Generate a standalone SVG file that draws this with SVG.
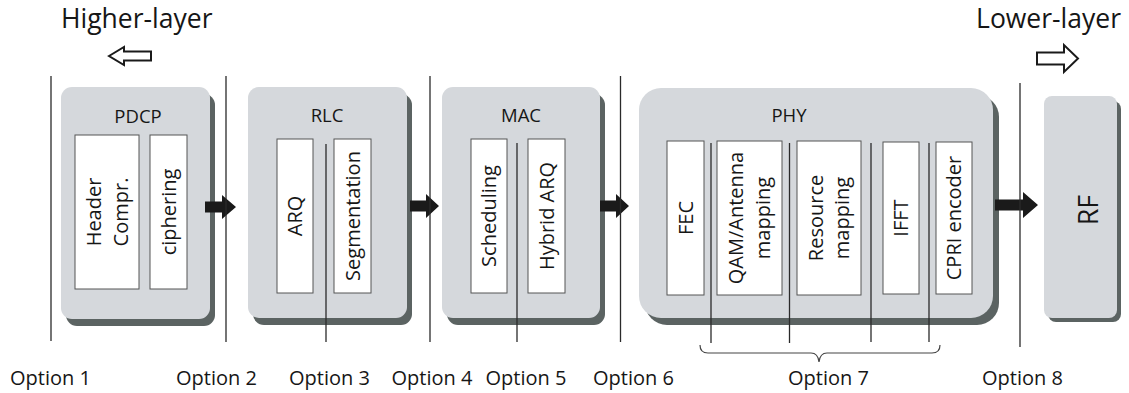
<svg xmlns="http://www.w3.org/2000/svg" width="1129" height="393" viewBox="0 0 1129 393">
<style>
text{font-family:"Open Sans","Noto Sans","Liberation Sans",sans-serif;fill:#161616}
.title{font-size:18.5px;text-anchor:middle}
.in{font-size:20px;text-anchor:middle}
.opt{font-size:20px;text-anchor:middle}
.big{font-size:26.5px}
.box{fill:#d5d8dc}
.sh{fill:#5b6362}
.inner{fill:#fff;stroke:#555;stroke-width:1}
.ln{stroke:#2a2a2a;stroke-width:1.3;fill:none}
.arr{fill:#1a1a1a}
.hol{fill:#fff;stroke:#1a1a1a;stroke-width:2;stroke-linejoin:miter}
</style>
<rect width="1129" height="393" fill="#fff"/>
<text class="big" x="61" y="28">Higher-layer</text>
<polygon class="hol" points="109,56 124,47 124,51.5 151,51.5 151,60.5 124,60.5 124,65"/>
<text class="big" x="1121" y="28" text-anchor="end">Lower-layer</text>
<polygon class="hol" points="1037,52.5 1064,52.5 1064,45 1078,58.5 1064,72 1064,64.5 1037,64.5"/>

<g id="pdcp">
<rect class="sh" x="66" y="94" width="149" height="232" rx="11"/>
<rect class="box" x="61" y="87" width="149" height="232" rx="11"/>
<text class="title" x="138" y="123">PDCP</text>
<rect class="inner" x="75" y="135" width="64" height="154"/>
<text class="in" transform="translate(94,212) rotate(-90)" y="7">Header</text>
<text class="in" transform="translate(121,212) rotate(-90)" y="7">Compr.</text>
<rect class="inner" x="150" y="135" width="37" height="154"/>
<text class="in" transform="translate(168.5,212) rotate(-90)" y="7">ciphering</text>
</g>

<g id="rlc">
<rect class="sh" x="253" y="94" width="159" height="231" rx="11"/>
<rect class="box" x="248" y="87" width="159" height="231" rx="11"/>
<text class="title" x="327" y="122">RLC</text>
<rect class="inner" x="277" y="139" width="36" height="154"/>
<text class="in" transform="translate(295,216) rotate(-90)" y="7">ARQ</text>
<rect class="inner" x="334" y="139" width="37" height="154"/>
<text class="in" transform="translate(352.5,216) rotate(-90)" y="7">Segmentation</text>
</g>

<g id="mac">
<rect class="sh" x="447" y="94" width="158" height="231" rx="11"/>
<rect class="box" x="442" y="87" width="158" height="231" rx="11"/>
<text class="title" x="521" y="122">MAC</text>
<rect class="inner" x="471" y="139" width="36" height="154"/>
<text class="in" transform="translate(489,216) rotate(-90)" y="7">Scheduling</text>
<rect class="inner" x="528" y="139" width="37" height="154"/>
<text class="in" transform="translate(546.5,216) rotate(-90)" y="7">Hybrid ARQ</text>
</g>

<g id="phy">
<rect class="sh" x="645" y="95" width="354" height="230" rx="22"/>
<rect class="box" x="639" y="88" width="354" height="230" rx="22"/>
<text class="title" x="789" y="122">PHY</text>
<rect class="inner" x="667" y="141" width="37" height="154"/>
<text class="in" transform="translate(685.5,218) rotate(-90)" y="7">FEC</text>
<rect class="inner" x="717" y="141" width="65" height="154"/>
<text class="in" transform="translate(736,218) rotate(-90)" y="7">QAM/Antenna</text>
<text class="in" transform="translate(763,218) rotate(-90)" y="7">mapping</text>
<rect class="inner" x="797" y="141" width="64" height="154"/>
<text class="in" transform="translate(816,218) rotate(-90)" y="7">Resource</text>
<text class="in" transform="translate(842,218) rotate(-90)" y="7">mapping</text>
<rect class="inner" x="883" y="142" width="36" height="152"/>
<text class="in" transform="translate(901,218) rotate(-90)" y="7">IFFT</text>
<rect class="inner" x="936" y="142" width="36" height="152"/>
<text class="in" transform="translate(954,218) rotate(-90)" y="7">CPRI encoder</text>
</g>

<g id="rf">
<rect class="sh" x="1048" y="101" width="73" height="221" rx="8"/>
<rect class="box" x="1044" y="96" width="73" height="222" rx="8"/>
<text transform="translate(1088,210) rotate(-90)" y="9.5" font-size="27" text-anchor="middle">RF</text>
</g>

<g id="connectors">
<polygon class="arr" points="205,201.5 222,201.5 222,195 236,207 222,219 222,212.5 205,212.5"/>
<polygon class="arr" points="410,200.5 426,200.5 426,194 439,206 426,218 426,211.5 410,211.5"/>
<polygon class="arr" points="600,200.5 616,200.5 616,194 629,206 616,218 616,211.5 600,211.5"/>
<polygon class="arr" points="995,199.5 1023,199.5 1023,192 1038,205 1023,218 1023,210.5 995,210.5"/>
<line class="ln" x1="51" y1="76" x2="51" y2="341"/>
<line class="ln" x1="226" y1="76" x2="226" y2="342"/>
<line class="ln" x1="326" y1="144" x2="326" y2="342"/>
<line class="ln" x1="430" y1="76" x2="430" y2="342"/>
<line class="ln" x1="517" y1="143" x2="517" y2="342"/>
<line class="ln" x1="620.5" y1="76" x2="620.5" y2="342"/>
<line class="ln" x1="711" y1="143" x2="711" y2="343"/>
<line class="ln" x1="789.5" y1="143" x2="789.5" y2="343"/>
<line class="ln" x1="871" y1="143" x2="871" y2="342"/>
<line class="ln" x1="929" y1="143" x2="929" y2="342"/>
<line class="ln" x1="1020" y1="83" x2="1020" y2="347"/>
<path d="M700,345 Q700,353 708,353 L811,353 Q818,353 819,362 Q820,353 827,353 L932,353 Q940,353 940,345" fill="none" stroke="#444" stroke-width="1.2"/>
</g>

<g id="labels">
<text class="opt" x="50.5" y="385">Option 1</text>
<text class="opt" x="216.5" y="385">Option 2</text>
<text class="opt" x="329.5" y="385">Option 3</text>
<text class="opt" x="432" y="385">Option 4</text>
<text class="opt" x="526" y="385">Option 5</text>
<text class="opt" x="633.5" y="385">Option 6</text>
<text class="opt" x="828.5" y="385">Option 7</text>
<text class="opt" x="1022.5" y="385">Option 8</text>
</g>
</svg>
